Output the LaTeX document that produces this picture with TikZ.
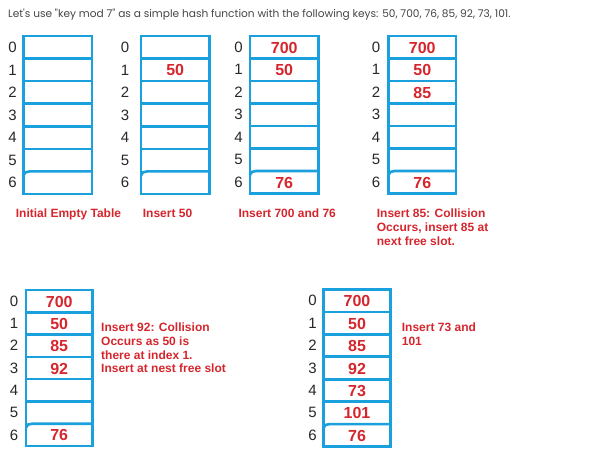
\documentclass[tikz,border=0pt]{standalone}
\usepackage{fontspec}
\setmainfont{Liberation Sans}
\newfontfamily\titlefont{Poppins}
\definecolor{tblue}{RGB}{27,160,222}
\definecolor{tred}{RGB}{214,38,45}
\definecolor{tgray}{RGB}{70,70,70}
\definecolor{idxgray}{RGB}{40,40,40}
\tikzset{
  tabline/.style={draw=tblue, line width=2.6pt},
  idx/.style={inner sep=0pt, text=idxgray, font=\fontsize{15}{15}\selectfont},
  val/.style={inner sep=0pt, text=tred, font=\fontsize{16}{16}\selectfont\bfseries},
  captext/.style={inner sep=0pt, anchor=north west, align=left, text=tred, font=\fontsize{12}{14.3}\selectfont\bfseries},
}
\newcommand{\htab}[6]{% id, L, R, T, B, label x
  \draw[tabline] (#2,#4) rectangle (#3,#5);
  \foreach \i in {1,...,5} {
    \pgfmathsetmacro\ys{#4+\i*(#5-#4)/7}
    \draw[tabline] (#2,\ys) -- (#3,\ys);
  }
  \pgfmathsetmacro\ysix{#4+6*(#5-#4)/7}
  \draw[tabline] (#2,\ysix+4) to[out=90,in=180] (#2+6,\ysix) -- (#3,\ysix);
  \fill[tblue] (#2,\ysix) -- (#2,\ysix+4) to[out=90,in=180] (#2+6,\ysix) -- cycle;
  \foreach \i in {0,...,6} {
    \pgfmathsetmacro\yc{#4+(\i+0.5)*(#5-#4)/7}
    \coordinate (#1c\i) at ({(#2+#3)/2},\yc+0.5);
    \node[idx] (#1i\i) at (#6,\yc) {\i};
  }
}
\begin{document}
\begin{tikzpicture}[x=1pt,y=-1pt]
\useasboundingbox[fill=white] (0,0) rectangle (600,453);
\node[inner sep=0pt, anchor=base west, text=tgray, font=\titlefont\fontsize{10.6}{12}\selectfont] (title) at (8,17)
  {Let's use "key mod 7" as a simple hash function with the following keys: 50, 700, 76, 85, 92, 73, 101.};

\htab{a}{23.5}{92}{36}{194}{12.5}
\htab{b}{141}{209.5}{36}{194}{125}
\htab{c}{250}{318.5}{36}{193.5}{238.5}
\htab{d}{388.5}{456}{36}{193.5}{376}
\htab{e}{26}{92.5}{290}{446}{14}
\htab{f}{323.5}{390.5}{289.5}{446.5}{312.5}

\node[val] (b1) at (bc1) {50};

\node[val] (c0) at (cc0) {700};
\node[val] (c1) at (cc1) {50};
\node[val] (c6) at (cc6) {76};

\node[val] (d0) at (dc0) {700};
\node[val] (d1) at (dc1) {50};
\node[val] (d2) at (dc2) {85};
\node[val] (d6) at (dc6) {76};

\node[val] (e0) at (ec0) {700};
\node[val] (e1) at (ec1) {50};
\node[val] (e2) at (ec2) {85};
\node[val] (e3) at (ec3) {92};
\node[val] (e6) at (ec6) {76};

\node[val] (f0) at (fc0) {700};
\node[val] (f1) at (fc1) {50};
\node[val] (f2) at (fc2) {85};
\node[val] (f3) at (fc3) {92};
\node[val] (f4) at (fc4) {73};
\node[val] (f5) at (fc5) {101};
\node[val] (f6) at (fc6) {76};

\node[captext] (capa) at (15.7,208.5) {Initial Empty Table};
\node[captext] (capb) at (142.7,208.5) {Insert 50};
\node[captext] (capc) at (238.3,208.5) {Insert 700 and 76};
\node[captext] (capd) at (376.7,208.5) {Insert 85: Collision\\Occurs, insert 85 at\\next free slot.};
\node[captext, font=\fontsize{12}{13.8}\selectfont\bfseries] (cape) at (101,322.5) {Insert 92: Collision\\Occurs as 50 is\\there at index 1.\\Insert at nest free slot};
\node[captext] (capf) at (401.7,322.5) {Insert 73 and\\101};
\end{tikzpicture}
\end{document}
